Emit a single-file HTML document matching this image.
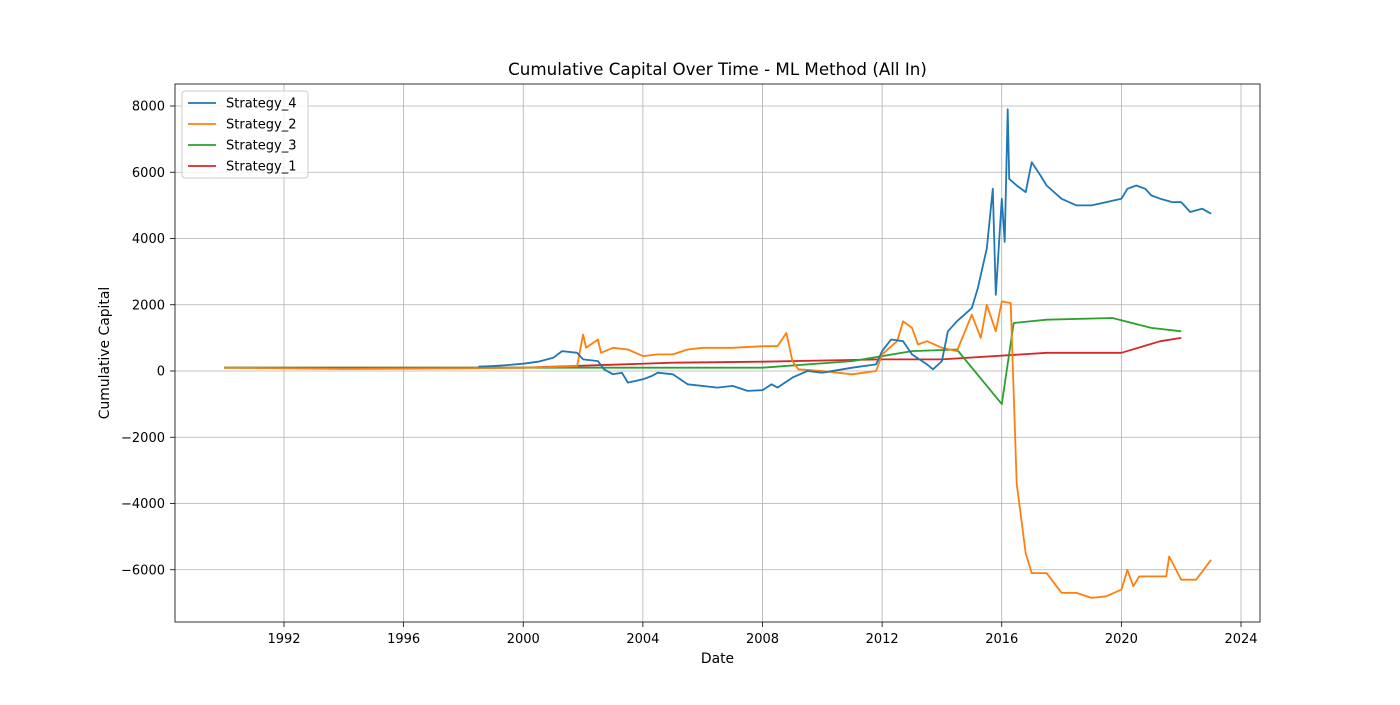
<!DOCTYPE html>
<html><head><meta charset="utf-8"><style>
html,body{margin:0;padding:0;background:#fff;}
svg{font-family:"DejaVu Sans","Liberation Sans",sans-serif;}
</style></head><body>
<svg id="chart" width="1400" height="700"></svg>
<script>
const yTicks=[-6000,-4000,-2000,0,2000,4000,6000,8000];
const xTicks=[1992,1996,2000,2004,2008,2012,2016,2020,2024];
const seriesNames=["Strategy_4","Strategy_2","Strategy_3","Strategy_1"];
const seriesColors=["#1f77b4","#ff7f0e","#2ca02c","#d62728"];
const s4Dates=[1998.5,1999,1999.5,2000,2000.5,2001,2001.3,2001.8,2002,2002.5,2002.7,2003,2003.3,2003.5,2004,2004.3,2004.5,2005,2005.5,2006.5,2007,2007.5,2008,2008.3,2008.5,2009,2009.5,2010,2011,2011.8,2012,2012.3,2012.7,2013,2013.5,2013.7,2014,2014.2,2014.5,2015,2015.2,2015.5,2015.7,2015.8,2016,2016.1,2016.2,2016.25,2016.5,2016.8,2017,2017.3,2017.5,2018,2018.5,2019,2019.5,2020,2020.2,2020.5,2020.8,2021,2021.3,2021.7,2022,2022.3,2022.7,2023];
const s4Values=[130,150,180,220,280,400,600,550,350,300,50,-100,-50,-350,-250,-150,-50,-100,-400,-500,-450,-600,-580,-400,-500,-200,0,-50,100,200,600,950,900,500,200,50,300,1200,1500,1900,2500,3700,5500,2300,5200,3900,7900,5800,5600,5400,6300,5900,5600,5200,5000,5000,5100,5200,5500,5600,5500,5300,5200,5100,5100,4800,4900,4750];
const s2Dates=[1990,1994,1998,2000,2001,2001.8,2002,2002.1,2002.5,2002.6,2003,2003.5,2004,2004.5,2005,2005.5,2006,2007,2008,2008.5,2008.8,2009,2009.2,2010,2011,2011.8,2012,2012.5,2012.7,2013,2013.2,2013.5,2014,2014.5,2015,2015.3,2015.5,2015.8,2016,2016.3,2016.5,2016.8,2017,2017.5,2018,2018.5,2019,2019.5,2020,2020.2,2020.4,2020.6,2021.5,2021.6,2022,2022.5,2023];
const s2Values=[100,60,80,100,120,150,1100,700,950,550,700,650,450,500,500,650,700,700,750,750,1150,300,50,0,-100,0,500,900,1500,1300,800,900,700,600,1700,1000,2000,1200,2100,2050,-3400,-5500,-6100,-6100,-6700,-6700,-6850,-6800,-6600,-6000,-6500,-6200,-6200,-5600,-6300,-6300,-5700];
const s3Dates=[1990,2000,2008,2011,2013,2014.5,2016,2016.4,2017.5,2019.7,2021,2022];
const s3Values=[100,100,100,300,600,650,-1000,1450,1550,1600,1300,1200];
const s1Dates=[1990,2000,2005,2008,2012,2014,2017.5,2020,2021.3,2022];
const s1Values=[100,100,250,280,350,350,550,550,900,1000];
const allDates=[s4Dates,s2Dates,s3Dates,s1Dates];
const allValues=[s4Values,s2Values,s3Values,s1Values];

const NS="http://www.w3.org/2000/svg";
const svg=document.getElementById("chart");
const L=175,R=1260,T=84,B=622;
function xs(d){return 284+(d-1992)*(1241-284)/32;}
function ys(v){return 371-v*(371-106)/8000;}
function mk(tag,attrs,parent){const e=document.createElementNS(NS,tag);for(const k in attrs)e.setAttribute(k,attrs[k]);(parent||svg).appendChild(e);return e;}

const grid=mk("g",{});


xTicks.forEach(t=>{const x=xs(t);
 mk("line",{x1:x,x2:x,y1:T,y2:B,stroke:"#b0b0b0","stroke-width":0.8},grid);
 mk("line",{x1:x,x2:x,y1:B,y2:B+5,stroke:"#000","stroke-width":0.8});
 const tx=mk("text",{x:x,y:B+21,"text-anchor":"middle","font-size":13});tx.textContent=t;
 
 
});
yTicks.forEach(t=>{const y=ys(t);
 mk("line",{x1:L,x2:R,y1:y,y2:y,stroke:"#b0b0b0","stroke-width":0.8},grid);
 mk("line",{x1:L-5,x2:L,y1:y,y2:y,stroke:"#000","stroke-width":0.8});
 const tx=mk("text",{x:L-10,y:y+4.5,"text-anchor":"end","font-size":13});tx.textContent=(t<0?"\u2212":"")+Math.abs(t);
 
 
});
for(let i=allDates.length-1;i>=0;i--){
 const pts=allDates[i].map((d,j)=>xs(d).toFixed(1)+","+ys(allValues[i][j]).toFixed(1)).join(" ");
 const pl=mk("polyline",{points:pts,fill:"none",stroke:seriesColors[i],"stroke-width":1.8,"stroke-linejoin":"round"});
 
 
}
mk("rect",{x:L,y:T,width:R-L,height:B-T,fill:"none",stroke:"#000","stroke-width":0.8});
const title=mk("text",{x:(L+R)/2,y:75,"text-anchor":"middle","font-size":16.7});title.textContent="Cumulative Capital Over Time - ML Method (All In)";


const xl=mk("text",{x:(L+R)/2,y:663,"text-anchor":"middle","font-size":13.9});xl.textContent="Date";


const yl=mk("text",{x:0,y:0,"text-anchor":"middle","font-size":13.9,transform:"translate(109,353) rotate(-90)"});yl.textContent="Cumulative Capital";


const lg=mk("g",{});


mk("rect",{x:182,y:91,width:126,height:87,rx:3,fill:"#fff","fill-opacity":0.8,stroke:"#ccc"},lg);
seriesNames.forEach((n,i)=>{const y=103+i*21;
 const e=mk("g",{},lg);
 
 
 mk("line",{x1:188,x2:216,y1:y,y2:y,stroke:seriesColors[i],"stroke-width":1.8},e);
 const t=mk("text",{x:226,y:y+4.5,"font-size":13},e);t.textContent=n;
});
</script>
</body></html>
